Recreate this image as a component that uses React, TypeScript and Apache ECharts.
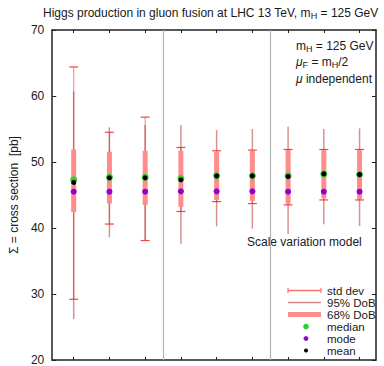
import React, { useEffect, useRef } from "react";
import * as echarts from "echarts";

const positions = [1, 2, 3, 4, 5, 6, 7, 8, 9];
const stdLow = [29.2, 40.6, 38.1, 42.5, 44.0, 43.7, 43.5, 44.25, 44.25];
const stdHigh = [64.4, 54.5, 56.8, 52.2, 51.7, 51.8, 51.9, 51.9, 51.9];
const dob95Low = [26.2, 38.6, 38.15, 37.6, 40.25, 39.9, 39.1, 40.55, 40.3];
const dob95High = [60.7, 55.25, 55.6, 55.6, 54.85, 55.0, 55.35, 55.0, 55.1];
const dob68Low = [42.4, 43.7, 43.5, 43.2, 44.25, 44.1, 43.7, 44.5, 44.4];
const dob68High = [51.9, 51.55, 51.7, 51.7, 51.6, 51.7, 51.8, 51.8, 51.8];
const medianVals = [47.3, 47.7, 47.7, 47.5, 47.9, 47.9, 47.9, 48.2, 48.1];
const modeVals = [45.5, 45.5, 45.5, 45.55, 45.55, 45.55, 45.5, 45.5, 45.5];
const meanVals = [46.9, 47.6, 47.6, 47.3, 47.9, 47.9, 47.8, 48.2, 48.1];
const groupSeparators = [3.5, 6.5];
const yTicks = [20, 30, 40, 50, 60, 70];
const legendLabels = ["std dev", "95% DoB", "68% DoB", "median", "mode", "mean"];

const FONT = "'Liberation Sans', Arial, Helvetica, sans-serif";
const STD_LINE = "#ff9494";
const STD_CAP = "#f04848";
const DOB95 = "rgba(176,40,40,0.5)";
const DOB68 = "#ff8c8c";
const GREEN = "#33cc33";
const PURPLE = "#9400d3";
const TEXT = "#1a1a1a";

export default function App() {
  const ref = useRef<HTMLDivElement>(null);
  useEffect(() => {
    if (!ref.current) return;
    const chart = echarts.init(ref.current, null, { renderer: "svg" });

    const rangeData = (lo: number[], hi: number[]) =>
      positions.map((x, i) => [x, lo[i], hi[i]]);

    const xAxisBase = {
      type: "value",
      min: 0.4,
      max: 9.46,
      axisLine: { show: true, onZero: false, lineStyle: { color: "#222", width: 1.5 } },
      axisTick: { show: true, inside: true, length: 3, customValues: positions, lineStyle: { color: "#222" } },
      axisLabel: { show: false, customValues: positions },
      splitLine: { show: false },
    };
    const yAxisBase = {
      type: "value",
      min: 20,
      max: 70,
      interval: 10,
      axisLine: { show: true, onZero: false, lineStyle: { color: "#222", width: 1.5 } },
      axisTick: { show: true, inside: true, length: 4, lineStyle: { color: "#222" } },
      splitLine: { show: false },
    };

    const legendRowsY = [290.5, 302.5, 314.5, 326.5, 338.5, 350.5];

    const option: any = {
      animation: false,
      title: {
        text: "Higgs production in gluon fusion at LHC 13 TeV, m{sub|H} = 125 GeV",
        left: 43,
        top: 6,
        padding: 0,
        textStyle: {
          fontSize: 12,
          fontWeight: "normal",
          color: TEXT,
          fontFamily: FONT,
          lineHeight: 14,
          rich: { sub: { fontSize: 9, lineHeight: 6, verticalAlign: "bottom", fontFamily: FONT, color: TEXT } },
        },
      },
      grid: { left: 46, right: 8, top: 30, bottom: 6, containLabel: false },
      xAxis: [
        { ...xAxisBase, position: "bottom" },
        { ...xAxisBase, position: "top" },
      ],
      yAxis: [
        {
          ...yAxisBase,
          position: "left",
          axisLabel: {
            show: true,
            margin: 8,
            fontSize: 12,
            color: TEXT,
            fontFamily: FONT,
            customValues: yTicks,
          },
          name: "Σ = cross section  [pb]",
          nameLocation: "middle",
          nameGap: 31,
          nameTextStyle: { fontSize: 12, color: TEXT, fontFamily: FONT },
        },
        { ...yAxisBase, position: "right", axisLabel: { show: false } },
      ],
      series: [
        {
          name: "std dev",
          type: "custom",
          xAxisIndex: 0,
          yAxisIndex: 0,
          data: rangeData(stdLow, stdHigh),
          encode: { x: 0, y: [1, 2] },
          z: 2,
          renderItem: (params: any, api: any) => {
            const x = api.value(0);
            const lo = api.coord([x, api.value(1)]);
            const hi = api.coord([x, api.value(2)]);
            const hw = 4.5;
            return {
              type: "group",
              children: [
                { type: "line", shape: { x1: lo[0], y1: lo[1], x2: hi[0], y2: hi[1] }, style: { stroke: STD_LINE, lineWidth: 1.2 } },
                { type: "line", shape: { x1: lo[0] - hw, y1: lo[1], x2: lo[0] + hw, y2: lo[1] }, style: { stroke: STD_CAP, lineWidth: 1.2 } },
                { type: "line", shape: { x1: hi[0] - hw, y1: hi[1], x2: hi[0] + hw, y2: hi[1] }, style: { stroke: STD_CAP, lineWidth: 1.2 } },
              ],
            };
          },
          markLine: {
            silent: true,
            symbol: "none",
            label: { show: false },
            lineStyle: { color: "#b4b4b4", width: 1.2, type: "solid" },
            data: groupSeparators.map((v) => ({ xAxis: v })),
          },
        },
        {
          name: "95% DoB",
          type: "custom",
          data: rangeData(dob95Low, dob95High),
          encode: { x: 0, y: [1, 2] },
          z: 3,
          renderItem: (params: any, api: any) => {
            const x = api.value(0);
            const lo = api.coord([x, api.value(1)]);
            const hi = api.coord([x, api.value(2)]);
            return { type: "line", shape: { x1: lo[0], y1: lo[1], x2: hi[0], y2: hi[1] }, style: { stroke: DOB95, lineWidth: 1.5 } };
          },
        },
        {
          name: "68% DoB",
          type: "custom",
          data: rangeData(dob68Low, dob68High),
          encode: { x: 0, y: [1, 2] },
          z: 4,
          renderItem: (params: any, api: any) => {
            const x = api.value(0);
            const lo = api.coord([x, api.value(1)]);
            const hi = api.coord([x, api.value(2)]);
            return { type: "line", shape: { x1: lo[0], y1: lo[1], x2: hi[0], y2: hi[1] }, style: { stroke: DOB68, lineWidth: 5 } };
          },
        },
        {
          name: "median",
          type: "scatter",
          data: positions.map((x, i) => [x, medianVals[i]]),
          symbolSize: 7,
          itemStyle: { color: GREEN, opacity: 1 },
          z: 5,
        },
        {
          name: "mode",
          type: "scatter",
          data: positions.map((x, i) => [x, modeVals[i]]),
          symbolSize: 6,
          itemStyle: { color: PURPLE, opacity: 1 },
          z: 6,
        },
        {
          name: "mean",
          type: "scatter",
          data: positions.map((x, i) => [x, meanVals[i]]),
          symbolSize: 5,
          itemStyle: { color: "#000", opacity: 1 },
          z: 7,
        },
      ],
      graphic: [
        {
          type: "text",
          left: 296,
          top: 39,
          style: {
            text: "m{sub|H} = 125 GeV",
            fontSize: 12,
            fontFamily: FONT,
            fill: TEXT,
            lineHeight: 14,
            rich: { sub: { fontSize: 9, lineHeight: 6, verticalAlign: "bottom", fontFamily: FONT, fill: TEXT } },
          },
        },
        {
          type: "text",
          left: 296,
          top: 55,
          style: {
            text: "{it|μ}{sub|F} = m{sub|H}/2",
            fontSize: 12,
            fontFamily: FONT,
            fill: TEXT,
            lineHeight: 14,
            rich: {
              it: { fontSize: 12, fontStyle: "italic", fontFamily: FONT, fill: TEXT },
              sub: { fontSize: 9, lineHeight: 6, verticalAlign: "bottom", fontFamily: FONT, fill: TEXT },
            },
          },
        },
        {
          type: "text",
          left: 296,
          top: 72,
          style: {
            text: "{it|μ} independent",
            fontSize: 12,
            fontFamily: FONT,
            fill: TEXT,
            lineHeight: 14,
            rich: { it: { fontSize: 12, fontStyle: "italic", fontFamily: FONT, fill: TEXT } },
          },
        },
        {
          type: "text",
          left: 247,
          top: 236,
          style: { text: "Scale variation model", fontSize: 12, fontFamily: FONT, fill: TEXT },
        },
        // legend keys
        { type: "line", shape: { x1: 288, y1: legendRowsY[0], x2: 321, y2: legendRowsY[0] }, style: { stroke: "#ff7070", lineWidth: 1.5 } },
        { type: "line", shape: { x1: 288, y1: legendRowsY[0] - 2.5, x2: 288, y2: legendRowsY[0] + 2.5 }, style: { stroke: "#ff7070", lineWidth: 1.2 } },
        { type: "line", shape: { x1: 321, y1: legendRowsY[0] - 2.5, x2: 321, y2: legendRowsY[0] + 2.5 }, style: { stroke: "#ff7070", lineWidth: 1.2 } },
        { type: "line", shape: { x1: 288, y1: legendRowsY[1], x2: 321, y2: legendRowsY[1] }, style: { stroke: "#d98888", lineWidth: 1.5 } },
        { type: "line", shape: { x1: 288, y1: legendRowsY[2], x2: 321, y2: legendRowsY[2] }, style: { stroke: DOB68, lineWidth: 5 } },
        { type: "circle", shape: { cx: 306, cy: legendRowsY[3], r: 2.8 }, style: { fill: GREEN } },
        { type: "circle", shape: { cx: 306, cy: legendRowsY[4], r: 2.4 }, style: { fill: PURPLE } },
        { type: "circle", shape: { cx: 306, cy: legendRowsY[5], r: 2 }, style: { fill: "#000" } },
        ...legendLabels.map((t, i) => ({
          type: "text",
          x: 327,
          y: legendRowsY[i],
          style: {
            text: t,
            fontSize: 11.5,
            lineHeight: 11,
            fontFamily: FONT,
            fill: TEXT,
            verticalAlign: "middle",
            align: "left",
          },
        })),
      ],
    };
    chart.setOption(option);
    return () => chart.dispose();
  }, []);
  return (
    <div
      ref={ref}
      style={{ position: "fixed", left: 0, top: 0, width: 384, height: 366, background: "#fff" }}
    />
  );
}
